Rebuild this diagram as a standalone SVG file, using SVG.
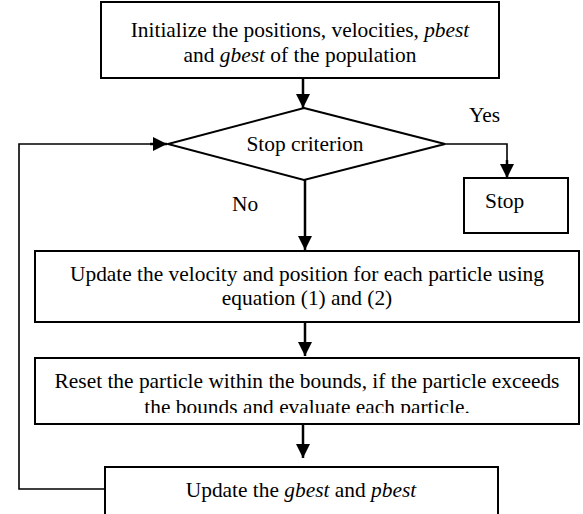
<svg xmlns="http://www.w3.org/2000/svg" width="583" height="514" viewBox="0 0 583 514">
<style>
.box{fill:#fff;stroke:#000;stroke-width:2}
.t{font-family:'Liberation Serif','Times New Roman',Times,'DejaVu Serif','Noto Serif',serif;font-size:21.4px;fill:#000}
.c{text-anchor:middle}
.con{fill:none;stroke:#000;stroke-width:2.5}
.loop{fill:none;stroke:#000;stroke-width:1.6}
</style>
<defs>
<marker id="ah" markerUnits="userSpaceOnUse" viewBox="0 0 14 14" refX="14" refY="7" markerWidth="14" markerHeight="14" orient="auto">
<path d="M0,0 L14,7 L0,14 z" fill="#000"/>
</marker>
<clipPath id="clip3"><rect x="36" y="359" width="542" height="54"/></clipPath>
</defs>
<rect width="583" height="514" fill="#fff"/>
<g id="init">
<rect class="box" x="101" y="2" width="398" height="76"/>
<text class="t c" x="300" y="37">Initialize the positions, velocities, <tspan font-style="italic">pbest</tspan></text>
<text class="t c" x="300" y="62">and <tspan font-style="italic">gbest</tspan> of the population</text>
</g>
<g id="stopcrit">
<polygon class="box" points="304,108 445,144 304,180 168,144"/>
<text class="t c" x="305" y="151">Stop criterion</text>
</g>
<g id="stop">
<rect class="box" x="464" y="178" width="104" height="55"/>
<text class="t" x="485" y="208">Stop</text>
</g>
<g id="update">
<rect class="box" x="35" y="251" width="544" height="71"/>
<text class="t c" x="307" y="281">Update the velocity and position for each particle using</text>
<text class="t c" x="307" y="305">equation (1) and (2)</text>
</g>
<g id="reset">
<rect class="box" x="35" y="358" width="544" height="66"/>
<text class="t c" x="307" y="388">Reset the particle within the bounds, if the particle exceeds</text>
<text class="t c" x="307" y="413.5" clip-path="url(#clip3)">the bounds and evaluate each particle.</text>
</g>
<g id="best">
<rect class="box" x="105" y="467" width="393" height="60"/>
<text class="t c" x="301" y="497">Update the <tspan font-style="italic">gbest</tspan> and <tspan font-style="italic">pbest</tspan></text>
</g>
<g id="labels">
<text class="t" x="469" y="122">Yes</text>
<text class="t" x="232" y="211">No</text>
</g>
<g id="connectors">
<path class="con" d="M303,78 V108" marker-end="url(#ah)"/>
<path class="con" d="M305,180 V250" marker-end="url(#ah)"/>
<path class="con" d="M305,322 V356" marker-end="url(#ah)"/>
<path class="con" d="M303,424 V458" marker-end="url(#ah)"/>
<path class="loop" d="M445,144 H507 V165"/>
<path class="con" d="M507,160 V178" marker-end="url(#ah)"/>
<path class="loop" d="M105,489 H19 V144 H160"/>
<path class="con" d="M150,144 H167" marker-end="url(#ah)"/>
</g>
</svg>
